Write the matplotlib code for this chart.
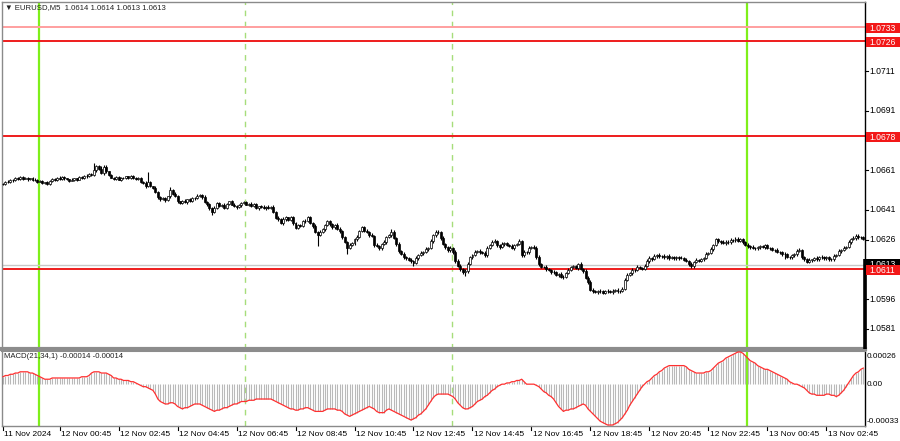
import matplotlib
matplotlib.use("Agg")
import matplotlib.pyplot as plt
import matplotlib.transforms as mtransforms
from matplotlib.patches import Rectangle
import numpy as np

plt.rcParams['font.family'] = ['Liberation Sans', 'DejaVu Sans']

# ---------------- data ----------------
# closes in points (0.00001) above base price
base_price = 1.06000
close_pts = [
 540,552,548,562,558,570,564,575,566,572,563,570,558,562,552,
 556,545,548,540,555,566,560,572,565,575,568,564,556,562,568,
 562,575,570,582,578,592,588,612,630,618,596,628,604,585,572,
 565,575,562,572,568,578,570,580,572,566,570,552,545,530,548,
 528,522,500,475,462,470,458,478,512,492,478,452,445,455,448,
 462,455,472,468,480,486,475,448,438,418,398,420,442,430,436,
 420,440,452,436,430,422,432,444,448,436,440,430,438,418,428,
 425,418,426,420,424,398,370,362,345,362,372,360,372,342,320,
 332,330,352,356,372,345,328,300,285,298,312,332,352,336,322,
 334,315,302,272,248,218,234,242,262,275,302,322,305,300,285,
 278,232,228,215,238,248,272,282,300,268,238,202,188,172,168,
 158,152,142,168,182,192,198,212,218,252,282,300,296,268,238,
 222,206,218,198,152,128,112,95,100,138,172,182,198,202,195,
 192,180,218,232,248,252,232,222,238,242,232,228,218,232,238,
 252,182,198,195,218,222,218,172,138,122,122,112,108,98,95,
 82,85,72,70,92,108,122,125,118,138,112,100,68,45,8,
 0,-5,2,-2,-8,0,3,-5,2,5,-2,0,12,58,82,
 92,108,105,122,118,112,128,152,168,162,178,182,175,178,170,
 178,168,172,165,172,166,168,158,152,138,125,148,158,152,162,
 168,188,192,212,232,262,252,248,242,250,246,258,256,265,255,
 262,248,235,226,222,218,215,222,228,222,232,218,215,206,208,
 198,196,188,185,172,170,180,185,202,208,172,162,148,158,158,
 168,160,172,170,165,172,162,160,178,182,202,208,218,222,248,
 262,268,280,272,272,262,
]
# upper / lower wick lengths in points
wick_up = [
 5,3,6,4,2,5,3,6,4,3,5,2,4,6,3,5,2,4,7,3,5,4,2,6,3,5,4,3,6,2,
 4,6,3,5,8,4,6,10,8,5,12,6,9,4,5,3,6,4,2,5,4,3,6,5,3,4,7,5,8,5,
 6,4,8,5,3,7,6,4,10,5,6,8,4,5,7,3,6,4,5,8,4,6,9,5,7,4,8,6,5,3,
 7,5,4,8,6,3,5,7,4,6,5,8,4,6,3,5,7,4,6,5,8,6,9,5,10,7,4,8,6,9,
 6,8,5,10,7,9,6,8,5,11,7,6,9,5,8,6,10,7,5,8,6,9,7,5,10,6,8,7,9,5,
 8,6,10,7,5,9,6,8,11,7,6,9,5,8,7,6,10,5,8,7,9,6,8,5,10,7,9,6,8,10,
 7,5,9,6,8,10,7,6,9,8,5,7,10,6,8,5,9,7,6,8,10,7,5,9,6,8,7,10,6,5,
 9,7,8,5,10,6,8,7,9,5,6,8,7,5,9,6,8,10,7,5,8,6,9,7,5,8,6,10,7,9,
 6,8,5,7,9,6,8,5,7,6,9,5,8,10,7,6,9,5,8,7,6,9,10,7,5,8,6,9,5,7,
 6,8,5,7,6,4,8,5,7,6,9,5,8,6,7,5,9,6,10,7,8,6,5,9,7,6,8,5,7,6,
 8,5,7,6,4,8,5,7,6,5,8,4,6,7,5,8,6,4,7,5,6,9,5,8,10,6,7,5,8,6,
 5,7,6,8,5,7,6,4,9,6,8,5,7,6,9,7,10,8,6,7,5,
]
wick_dn = [
 4,6,3,5,7,2,6,4,5,3,6,4,5,3,7,4,6,5,3,6,4,5,7,3,5,6,4,5,3,6,
 5,3,7,4,6,5,8,6,9,7,5,10,8,6,4,7,5,3,6,4,5,7,3,6,5,4,8,6,10,7,
 5,8,6,9,7,5,8,6,7,9,5,8,6,7,5,8,6,5,7,4,6,8,5,7,9,12,6,8,5,7,
 5,7,6,4,8,6,5,7,6,4,8,5,7,6,9,5,6,8,5,7,6,8,9,7,10,6,8,7,9,8,
 9,7,6,8,10,7,9,8,6,9,7,10,6,8,7,9,6,10,8,7,9,6,8,10,7,9,6,8,7,10,
 7,9,8,6,10,7,9,6,8,7,10,9,7,8,10,6,9,8,7,10,6,8,7,9,6,8,10,7,9,6,
 8,10,7,9,10,8,9,10,6,8,7,9,6,8,10,7,6,9,8,7,6,9,8,7,10,6,8,7,9,6,
 7,10,8,9,6,8,7,10,9,8,7,9,6,10,8,7,9,8,10,6,7,9,8,6,10,8,7,9,10,8,
 9,7,10,8,6,9,8,7,10,6,9,8,7,6,9,8,10,7,6,9,8,7,6,8,9,7,10,6,8,7,
 7,9,6,8,7,10,6,8,7,9,10,6,8,7,6,9,7,8,6,9,7,10,8,6,9,7,6,8,9,7,
 6,8,9,7,10,6,8,7,9,6,8,7,10,6,9,8,7,10,9,6,8,7,9,10,6,8,9,7,6,10,
 8,7,9,6,8,7,10,9,6,8,7,9,6,8,7,9,6,8,7,9,6,
]
spike_idx = [37, 59, 68, 128, 140, 167, 188, 318]
spike_pts = [645, 600, 525, 225, 185, 125, 75, 160]

macd_e5 = [
 6,7,7,8,8,9,9,10,10,10,10,9,9,8,7,6,5,4,4,4,5,5,5,5,5,5,5,5,5,5,
 5,5,6,6,6,7,9,10,10,10,9,9,9,8,7,5,5,4,4,3,3,3,2,2,1,0,-1,-2,-2,-3,
 -4,-5,-8,-12,-14,-15,-16,-16,-15,-15,-16,-18,-19,-20,-19,-19,-18,-17,-16,-16,
 -16,-17,-18,-19,-20,-21,-22,-21,-21,-20,-19,-19,-18,-17,-16,-16,-15,-14,-14,-14,
 -13,-13,-13,-12,-12,-12,-12,-12,-12,-12,-13,-14,-15,-16,-17,-18,-19,-20,-20,-21,
 -21,-20,-20,-19,-19,-20,-21,-22,-22,-22,-22,-21,-20,-20,-20,-20,-21,-21,-22,-24,
 -25,-26,-25,-24,-23,-22,-21,-20,-19,-18,-19,-20,-22,-23,-23,-23,-21,-20,-21,-22,
 -23,-24,-25,-26,-27,-28,-29,-28,-27,-25,-24,-22,-20,-17,-14,-11,-9,-8,-8,-8,
 -8,-8,-9,-10,-12,-15,-17,-19,-20,-20,-19,-18,-16,-14,-13,-12,-10,-9,-7,-5,
 -4,-2,-1,0,0,1,1,2,2,3,3,4,2,0,0,0,0,-1,-2,-4,
 -6,-7,-9,-10,-12,-15,-18,-20,-22,-21,-21,-20,-20,-19,-18,-17,-16,-17,-20,-22,
 -24,-26,-28,-30,-31,-32,-33,-33,-33,-32,-31,-29,-27,-24,-21,-17,-14,-11,-8,-5,
 -2,0,2,3,5,7,8,10,11,13,14,15,15,15,15,15,15,15,14,12,
 11,10,9,9,9,9,10,10,11,13,15,17,18,19,21,22,23,24,25,26,
 26,25,23,21,19,18,17,15,14,13,12,12,11,10,9,8,7,6,5,4,
 2,1,0,0,-1,-2,-3,-5,-7,-8,-8,-9,-9,-9,-9,-8,-8,-9,-9,-10,
 -9,-7,-5,-2,1,4,7,9,10,12,13,
]

level_prices = [1.0733, 1.0726, 1.0678, 1.0611]
level_colors = ['#ff9f9f', '#ee1c1c', '#ee1c1c', '#ee1c1c']
bid_price = 1.0613
price_ticks = [1.0711, 1.0691, 1.0661, 1.0641, 1.0626, 1.0596, 1.0581]
time_idx = [0, 23, 47, 71, 95, 119, 143, 167, 191, 215, 239, 263, 287, 311, 335]
time_labels = ['11 Nov 2024', '12 Nov 00:45', '12 Nov 02:45', '12 Nov 04:45', '12 Nov 06:45',
               '12 Nov 08:45', '12 Nov 10:45', '12 Nov 12:45', '12 Nov 14:45', '12 Nov 16:45',
               '12 Nov 18:45', '12 Nov 20:45', '12 Nov 22:45', '13 Nov 00:45', '13 Nov 02:45']
day_lines = [14.5, 302.5]
session_lines = [98.5, 182.5]
macd_labels = ['0.00026', '0.00', '-0.00033']
macd_label_vals = [0.00022, 0.0, -0.000305]

# ---------------- figure ----------------
W, H = 900, 441
fig = plt.figure(figsize=(9, 4.41), dpi=100)
fig.patch.set_facecolor('white')

def fy(px):
    return 1 - px / H

ax = fig.add_axes([2 / W, fy(349), (865 - 2) / W, (349 - 2) / H])
ax2 = fig.add_axes([2 / W, fy(426), (865 - 2) / W, (426 - 351) / H])

n = len(close_pts)
idx = np.arange(n)
c = base_price + np.array(close_pts) * 1e-5
o = np.concatenate([[c[0]], c[:-1]])
wu = np.zeros(n)
wd = np.zeros(n)
wu[:min(n, len(wick_up))] = wick_up[:n]
wd[:min(n, len(wick_dn))] = wick_dn[:n]
hi = np.maximum(o, c) + wu * 1e-5
lo = np.minimum(o, c) - wd * 1e-5
for k, p in zip(spike_idx, spike_pts):
    p = base_price + p * 1e-5
    if p > hi[k]:
        hi[k] = p
    elif p < lo[k]:
        lo[k] = p

xl = (-0.41, 350.69)
for a in (ax, ax2):
    a.set_xlim(*xl)
    a.set_facecolor('white')
    a.set_xticks([])
    a.set_yticks([])
    for s in a.spines.values():
        s.set_color('#8a8a8a')
        s.set_linewidth(1.0)
    a.spines['right'].set_color('black')

ax.set_ylim(1.05708, 1.07458)
ax.spines['bottom'].set_linewidth(3.0)
ax.spines['bottom'].set_color('#8c8c8c')
ax2.set_ylim(-0.000338, 0.000268)
ax2.spines['top'].set_linewidth(1.5)
ax2.spines['top'].set_color('#8c8c8c')

# vertical lines
for a in (ax, ax2):
    for v in day_lines:
        a.axvline(v, color='#7fef1a', lw=1.6, zorder=1)
    for v in session_lines:
        a.axvline(v, color='#a6dd7a', lw=1.0, dashes=(4, 4), zorder=1)

# levels
ax.axhline(bid_price, color='#c8c8c8', lw=1.0, zorder=1)
for p, col in zip(level_prices, level_colors):
    ax.axhline(p, color=col, lw=1.4, zorder=2)

# candles
ax.vlines(idx, lo, hi, color='black', lw=0.8, zorder=3)
bh = np.abs(c - o)
bh = np.where(bh < 0.00002, 0.00002, bh)
up = c >= o
ax.bar(idx[up], bh[up], bottom=np.minimum(o, c)[up], width=0.8,
       color='white', edgecolor='black', linewidth=0.5, zorder=4)
ax.bar(idx[~up], bh[~up], bottom=np.minimum(o, c)[~up], width=0.8,
       color='black', edgecolor='black', linewidth=0.5, zorder=4)

# right edge thick bar
ax.plot([1, 1], [0, 0.26], transform=ax.transAxes, color='black', lw=2.6,
        clip_on=False, zorder=6, solid_capstyle='butt')

# price axis
bt = mtransforms.blended_transform_factory(fig.transFigure, ax.transData)
for p in price_ticks:
    ax.plot([865 / W, 868 / W], [p, p], transform=bt, color='black', lw=0.8, clip_on=False)
    ax.text(869 / W, p, f'{p:.4f}', transform=bt, fontsize=6.2, va='center', ha='left', color='black')
ph = 10.5 / 19826
ax.add_patch(Rectangle((865.5 / W, bid_price - ph / 2 + 0.00003), 34 / W, ph, transform=bt,
                       facecolor='black', edgecolor='none', clip_on=False, zorder=7))
ax.text(869 / W, bid_price + 0.00003, f'{bid_price:.4f}', transform=bt, fontsize=6.2,
        va='center', ha='left', color='white', zorder=8)
for p, col in zip(level_prices, level_colors):
    ax.add_patch(Rectangle((865.5 / W, p - ph / 2 - 0.00004), 34 / W, ph, transform=bt,
                           facecolor='#f21818', edgecolor='none', clip_on=False, zorder=9))
    ax.text(869 / W, p - 0.00004, f'{p:.4f}', transform=bt, fontsize=6.2, va='center',
            ha='left', color='white', zorder=10)

# header
fig.text(5 / W, fy(8), '\u25bc EURUSD,M5  1.0614 1.0614 1.0613 1.0613', fontsize=5.6,
         va='center', ha='left', color='#202020')

# MACD
macd = np.array(macd_e5) * 1e-5
ax2.vlines(idx, 0, macd, color='#b9b9b9', lw=0.8, zorder=2)
ax2.plot(idx, macd, color='#ff3030', lw=0.9, zorder=3)
fig.text(4 / W, fy(357), 'MACD(21,34,1) -0.00014 -0.00014', fontsize=5.6, va='center',
         ha='left', color='#202020')
bt2 = mtransforms.blended_transform_factory(fig.transFigure, ax2.transData)
for lab, v in zip(macd_labels, macd_label_vals):
    ax2.text(867 / W, v, lab, transform=bt2, fontsize=5.9, va='center', ha='left', color='black')

# time axis
bt3 = mtransforms.blended_transform_factory(ax2.transData, fig.transFigure)
for i, lab in zip(time_idx, time_labels):
    ax2.plot([i, i], [fy(426), fy(430)], transform=bt3, color='black', lw=0.8, clip_on=False)
    ax2.text(i + 0.6, fy(434), lab, transform=bt3, fontsize=6.0, va='center', ha='left',
             color='black')

fig.savefig('out.png', dpi=100, facecolor='white')
